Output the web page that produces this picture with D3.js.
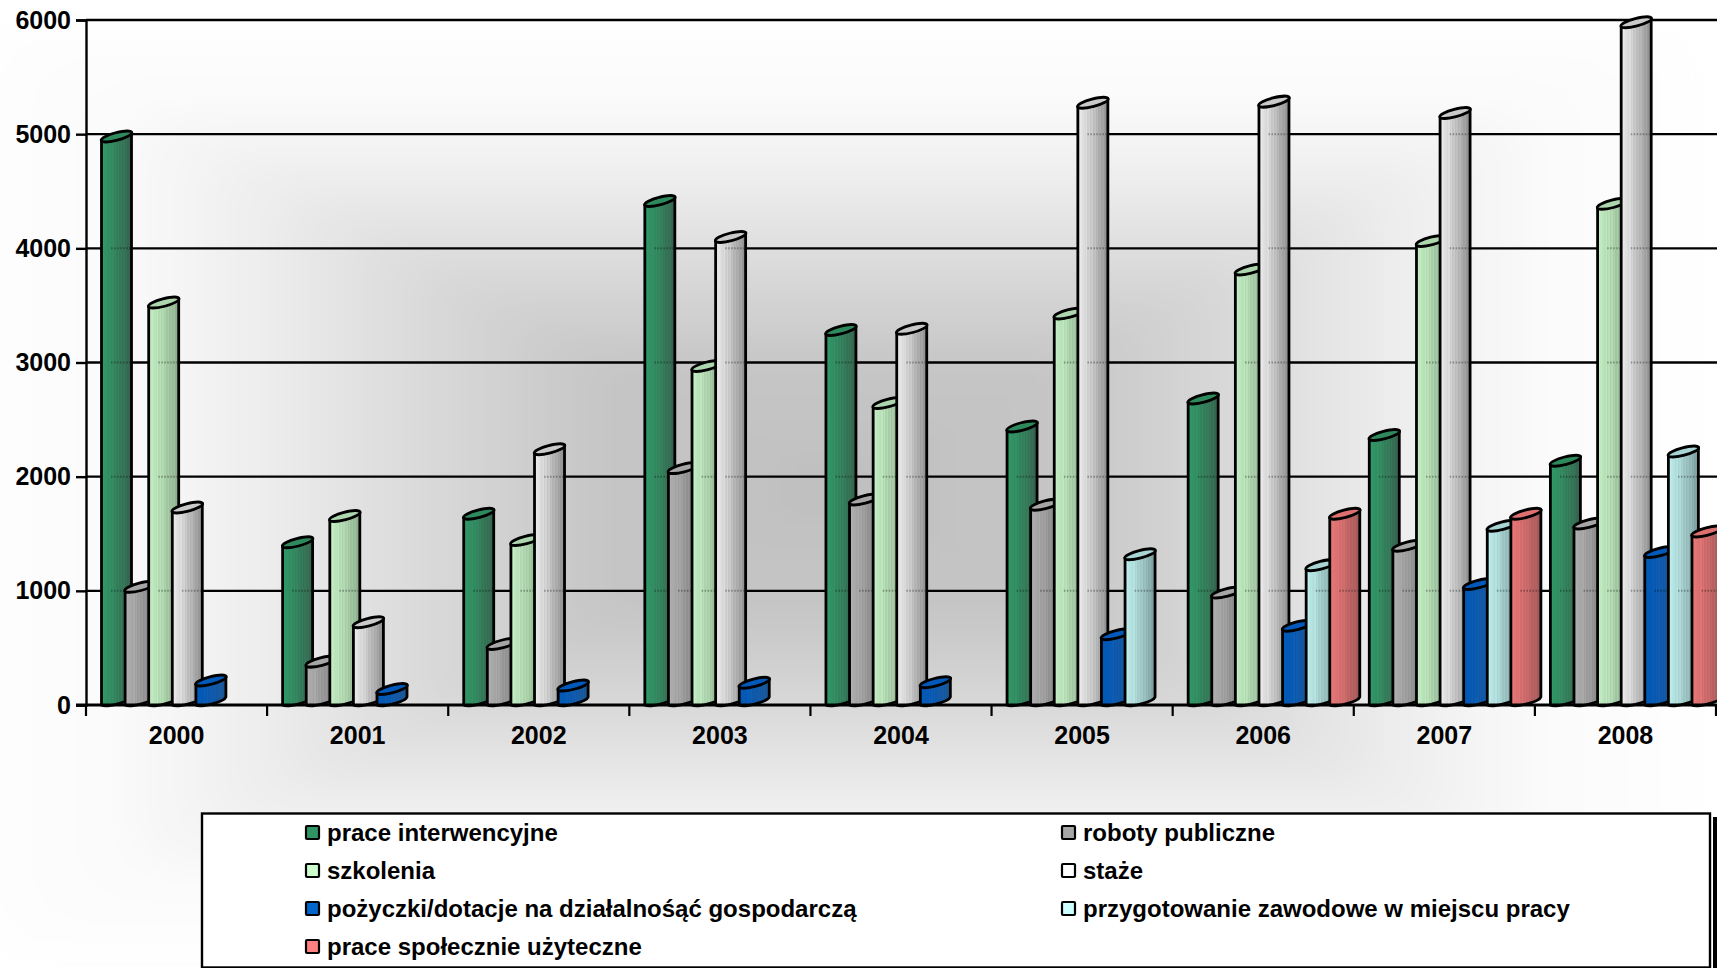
<!DOCTYPE html>
<html><head><meta charset="utf-8">
<script src="https://cdn.jsdelivr.net/npm/d3@7"></script>
<style>html,body{margin:0;padding:0;background:#fff;overflow:hidden}svg{display:block}text{font-family:"Liberation Sans",Arial,sans-serif;font-weight:bold;fill:#000}</style>
</head><body><div id="c"></div>
<script>
const years=["2000","2001","2002","2003","2004","2005","2006","2007","2008"];
const yTicks=[0,1000,2000,3000,4000,5000,6000];
const seriesNames=["prace interwencyjne","roboty publiczne","szkolenia","staże","pożyczki/dotacje na działalnośąć gospodarczą","przygotowanie zawodowe w miejscu pracy","prace społecznie użyteczne"];
const praceInterwencyjne=[4945,1390,1640,4380,3250,2405,2650,2330,2105];
const robotyPubliczne=[1000,345,500,2040,1765,1720,950,1360,1555];
const szkolenia=[3490,1620,1410,2935,2610,3395,3780,4030,4355];
const staze=[1695,690,2205,4065,3260,5240,5250,5150,5945];
const pozyczki=[180,105,135,160,165,585,660,1025,1305];
const przygotowanie=[null,null,null,null,null,1285,1190,1535,2185];
const praceSpoleczne=[null,null,null,null,null,null,1640,1640,1485];
const seriesValues=[praceInterwencyjne,robotyPubliczne,szkolenia,staze,pozyczki,przygotowanie,praceSpoleczne];
const lightColors=["#309a68","#b0b0b0","#c6f0c6","#eeeeee","#0059bb","#c0f0ee","#ec7878"];
const darkColors=["#35604c","#7c7c7c","#88a888","#8a8a8a","#1c5692","#789898","#9c5656"];
const capColors=["#2e8a5c","#a6a6a6","#aed6ae","#cacaca","#0059bb","#a8d4d4","#de7070"];
const legendColors=["#2f9565","#a6a6a6","#ccffcc","#ffffff","#0066cc","#ccffff","#ff8080"];

const W=1717,H=968;
const svg=d3.select("#c").append("svg").attr("width",W).attr("height",H);
const defs=svg.append("defs");
defs.append("filter").attr("id","soft").attr("filterUnits","userSpaceOnUse").attr("x",-200).attr("y",-200).attr("width",W+400).attr("height",H+400)
  .append("feGaussianBlur").attr("stdDeviation",16);
seriesNames.forEach((n,i)=>{
  const g=defs.append("linearGradient").attr("id","bar"+i);
  const ramp=d3.interpolateRgb(lightColors[i],darkColors[i]);
  const N=22;
  for(let k=0;k<N;k++){
    const t0=k/N,t1=(k+1)/N;
    let c=d3.color(ramp(t0));
    if(k>=6&&k<20&&k%2===0) c=c.brighter(.14);
    g.append("stop").attr("offset",t0).attr("stop-color",c.formatRgb());
    g.append("stop").attr("offset",t1).attr("stop-color",c.formatRgb());
  }
});
// rectangular path-style backdrop shading
svg.append("rect").attr("width",W).attr("height",H).attr("fill","#fff");
const shade=d3.scaleLinear().domain([0,.27,.45,.55,.68,.82,1]).range(["#bfbfbf","#c6c6c6","#d8d8d8","#e3e3e3","#f1f1f1","#fbfbfb","#ffffff"]);
const cxB=830,cyB=490,ha=900,hb=490;
svg.append("g").attr("filter","url(#soft)").selectAll("rect").data(d3.range(1,0,-.025)).join("rect")
  .attr("x",t=>cxB-ha*t).attr("y",t=>cyB-hb*t).attr("width",t=>2*ha*t).attr("height",t=>2*hb*t)
  .attr("rx",t=>60*t).attr("fill",t=>shade(t));

const y=d3.scaleLinear().domain([0,6000]).range([705,20]);
const x=d3.scaleBand().domain(years).range([86,1716]);
const slot=d3.scaleBand().domain(seriesNames).range([15.5,15.5+23.6*7]);
const bw=30,rise=8,rx=15.8,ry=3.8,ang=-14.5,sw=2.8;

// gridlines
svg.append("g").selectAll("line").data(yTicks.filter(d=>d>0)).join("line")
  .attr("x1",86).attr("x2",W).attr("y1",y).attr("y2",y).attr("stroke","#000").attr("stroke-width",2.4);

const gBars=svg.append("g");
years.forEach((yr,yi)=>{
  seriesNames.forEach((n,si)=>{
    const v=seriesValues[si][yi];
    if(v==null)return;
    const x0=x(yr)+slot(n),y0=y(0),yt=y(v),g=gBars.append("g");
    g.append("path")
      .attr("d",`M${x0},${yt}L${x0},${y0}A${rx},${ry} ${ang} 0 0 ${x0+bw},${y0-rise}L${x0+bw},${yt-rise}A${rx},${ry} ${ang} 0 1 ${x0},${yt}Z`)
      .attr("fill",`url(#bar${si})`).attr("stroke","#000").attr("stroke-width",sw).attr("stroke-linejoin","round");
    g.selectAll("line").data(yTicks.filter(t=>t>0&&t<v-60)).join("line")
      .attr("x1",x0+bw*.32).attr("x2",x0+bw-1.5).attr("y1",y).attr("y2",y)
      .attr("stroke","#000").attr("stroke-opacity",.32).attr("stroke-width",2).attr("stroke-dasharray","1.5 1.5");
    g.append("ellipse").attr("cx",0).attr("cy",0).attr("rx",rx).attr("ry",ry)
      .attr("transform",`translate(${x0+bw/2},${yt-rise/2}) rotate(${ang})`)
      .attr("fill",capColors[si]).attr("stroke","#000").attr("stroke-width",sw);
  });
});

const ax=svg.append("g").attr("transform","translate(86,0)")
  .call(d3.axisLeft(y).tickValues(yTicks).tickSize(10).tickPadding(5).tickFormat(d3.format("d")));
ax.select(".domain").attr("stroke","#000").attr("stroke-width",2.4);
ax.selectAll(".tick line").attr("stroke","#000").attr("stroke-width",2.4);
ax.selectAll("text").style("font-size","25px").style("font-family",'"Liberation Sans"').style("font-weight","bold");

const bx=svg.append("g").attr("transform","translate(0,705)")
  .call(d3.axisBottom(x).tickSize(0).tickPadding(21));
bx.select(".domain").remove();
bx.selectAll("text").style("font-size","25px").style("font-family",'"Liberation Sans"').style("font-weight","bold");
svg.append("line").attr("x1",76).attr("x2",W).attr("y1",705).attr("y2",705).attr("stroke","#000").attr("stroke-width",2.8);
svg.append("g").selectAll("line").data(years.concat(["end"])).join("line")
  .attr("x1",d=>d==="end"?x.range()[1]:x(d)).attr("x2",d=>d==="end"?x.range()[1]:x(d))
  .attr("y1",705).attr("y2",716).attr("stroke","#000").attr("stroke-width",2.2);

// legend
svg.append("rect").attr("x",1713).attr("y",817).attr("width",4).attr("height",151).attr("fill","#000");
svg.append("rect").attr("x",202).attr("y",813.5).attr("width",1508).attr("height",154).attr("fill","#fff").attr("stroke","#000").attr("stroke-width",2.4);
const colX=[305,1061],rowY=[832,870,908,946];
const rowOf=i=>Math.floor(i/2),colOf=i=>i%2;
const lg=svg.append("g").selectAll("g").data(seriesNames).join("g")
  .attr("transform",(d,i)=>`translate(${colX[colOf(i)]},${rowY[rowOf(i)]})`);
lg.append("rect").attr("x",1).attr("y",-6).attr("width",13).attr("height",13).attr("rx",1)
  .attr("fill",(d,i)=>legendColors[i]).attr("stroke","#000").attr("stroke-width",2.2);
lg.append("text").attr("x",22).attr("dy","0.36em").style("font-size","24px").text(d=>d);
</script></body></html>
